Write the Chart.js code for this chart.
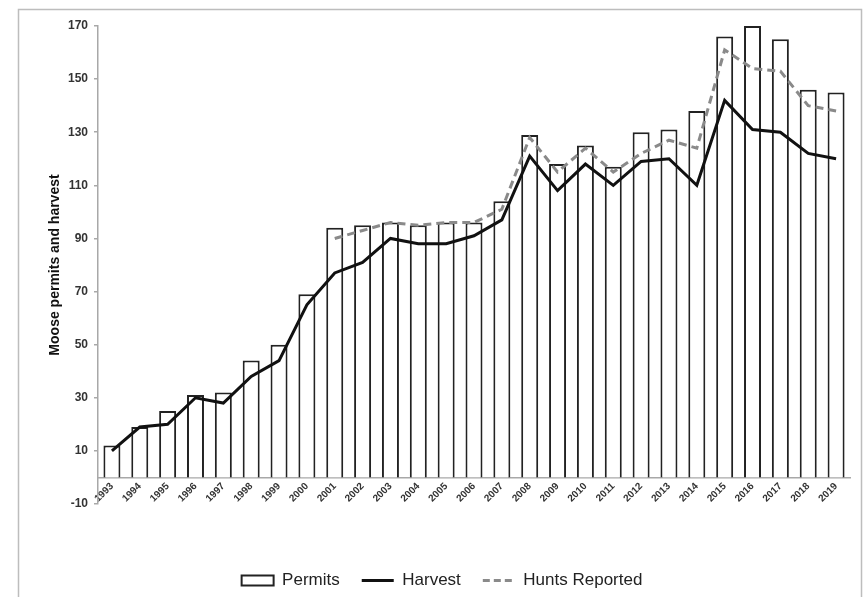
<!DOCTYPE html>
<html>
<head>
<meta charset="utf-8">
<script src="https://cdn.jsdelivr.net/npm/chart.js@4"></script>
<style>
  html, body { margin: 0; padding: 0; background: #fff; }
  #wrap { width: 867px; height: 597px; position: relative; }
</style>
</head>
<body>
<div id="wrap"><canvas id="moseChart" width="867" height="597"></canvas></div>
<script>
const years = ['1993', '1994', '1995', '1996', '1997', '1998', '1999', '2000', '2001', '2002',
    '2003', '2004', '2005', '2006', '2007', '2008', '2009', '2010', '2011', '2012',
    '2013', '2014', '2015', '2016', '2017', '2018', '2019'];
const permits = [12, 19, 25, 31, 32, 44, 50, 69, 94, 95,
    96, 95, 96, 96, 104, 129, 118, 125, 117, 130,
    131, 138, 166, 170, 165, 146, 145];
const harvest = [10, 19, 20, 30, 28, 38, 44, 65, 77, 81,
    90, 88, 88, 91, 97, 121, 108, 118, 110, 119,
    120, 110, 142, 131, 130, 122, 120];
const huntsReported = [null, null, null, null, null, null, null, null, 90, 93,
    96, 95, 96, 96, 101, 128, 115, 124, 115, 122,
    127, 124, 161, 154, 153, 140, 138];
const yTicks = { min: -10, max: 170, step: 20 };

const frame = {
    id: 'frame',
    beforeDraw(chart) {
        const c = chart.ctx;
        c.save();
        c.fillStyle = '#fff';
        c.fillRect(0, 0, chart.width, chart.height);
        c.strokeStyle = '#bdbdbd';
        c.lineWidth = 1.5;
        c.strokeRect(18.5, 9.5, 843, 620);
        c.restore();
    }
};

document.addEventListener('DOMContentLoaded', function () {
    const ctx = document.getElementById('moseChart').getContext('2d');
    new Chart(ctx, {
        type: 'bar',
        data: {
            labels: years,
            datasets: [{
                label: 'Permits',
                data: permits,
                backgroundColor: '#fff',
                borderColor: '#222',
                borderWidth: 2,
                barPercentage: 0.61,
                categoryPercentage: 1,
                order: 3
            }, {
                type: 'line',
                label: 'Harvest',
                data: harvest,
                borderColor: '#111',
                borderWidth: 3,
                pointRadius: 0,
                tension: 0,
                order: 1
            }, {
                type: 'line',
                label: 'Hunts Reported',
                data: huntsReported,
                borderColor: '#8a8a8a',
                borderWidth: 3,
                borderDash: [8, 5],
                pointRadius: 0,
                tension: 0,
                order: 2
            }]
        },
        options: {
            responsive: false,
            animation: false,
            layout: { padding: { left: 34, right: 17, top: 26, bottom: -2 } },
            scales: {
                x: {
                    position: { y: 0 },
                    grid: { display: false, drawTicks: false },
                    border: { display: true, color: '#a8a8a8', width: 1.5 },
                    ticks: {
                        autoSkip: false,
                        minRotation: 45,
                        maxRotation: 45,
                        padding: 3,
                        color: '#333',
                        font: { family: 'Liberation Sans, Arial', size: 10, weight: 'bold' }
                    }
                },
                xPad: {
                    type: 'category',
                    axis: 'x',
                    position: 'bottom',
                    grid: { display: false, drawTicks: false },
                    border: { display: false },
                    ticks: { display: false },
                    afterFit: s => { s.height = 46; }
                },
                y: {
                    min: yTicks.min,
                    max: yTicks.max,
                    afterFit: s => { s.width = 64; },
                    afterBuildTicks: s => {
                        const t = [];
                        for (let v = yTicks.min; v <= yTicks.max; v += yTicks.step) t.push({ value: v });
                        s.ticks = t;
                    },
                    grid: { drawOnChartArea: false, drawTicks: true, tickLength: 4, color: '#a8a8a8', lineWidth: 1.5 },
                    border: { display: true, color: '#a8a8a8', width: 1.5 },
                    ticks: {
                        padding: 6,
                        color: '#333',
                        font: { family: 'Liberation Sans, Arial', size: 12, weight: 'bold' }
                    },
                    title: {
                        display: true,
                        text: 'Moose permits and harvest',
                        color: '#111',
                        padding: { top: 13, bottom: 0 },
                        font: { family: 'Liberation Sans, Arial', size: 14, weight: 'bold' }
                    }
                }
            },
            plugins: {
                legend: {
                    display: true,
                    position: 'bottom',
                    labels: {
                        usePointStyle: true,
                        pointStyleWidth: 32,
                        boxHeight: 10,
                        padding: 22,
                        color: '#222',
                        font: { family: 'Liberation Sans, Arial', size: 17 },
                        generateLabels: chart => {
                            const items = Chart.defaults.plugins.legend.labels.generateLabels(chart);
                            items.sort((a, b) => a.datasetIndex - b.datasetIndex);
                            items.forEach(it => {
                                const ds = chart.data.datasets[it.datasetIndex];
                                if (it.datasetIndex === 0) {
                                    it.pointStyle = 'rect';
                                    it.fillStyle = '#fff';
                                    it.strokeStyle = '#222';
                                    it.lineWidth = 2;
                                } else {
                                    it.pointStyle = 'line';
                                    it.strokeStyle = ds.borderColor;
                                    it.lineWidth = 3;
                                    it.lineDash = ds.borderDash ? [7, 4] : [];
                                }
                            });
                            return items;
                        }
                    }
                },
                tooltip: { enabled: false }
            }
        },
        plugins: [frame]
    });
});
</script>
</body>
</html>
